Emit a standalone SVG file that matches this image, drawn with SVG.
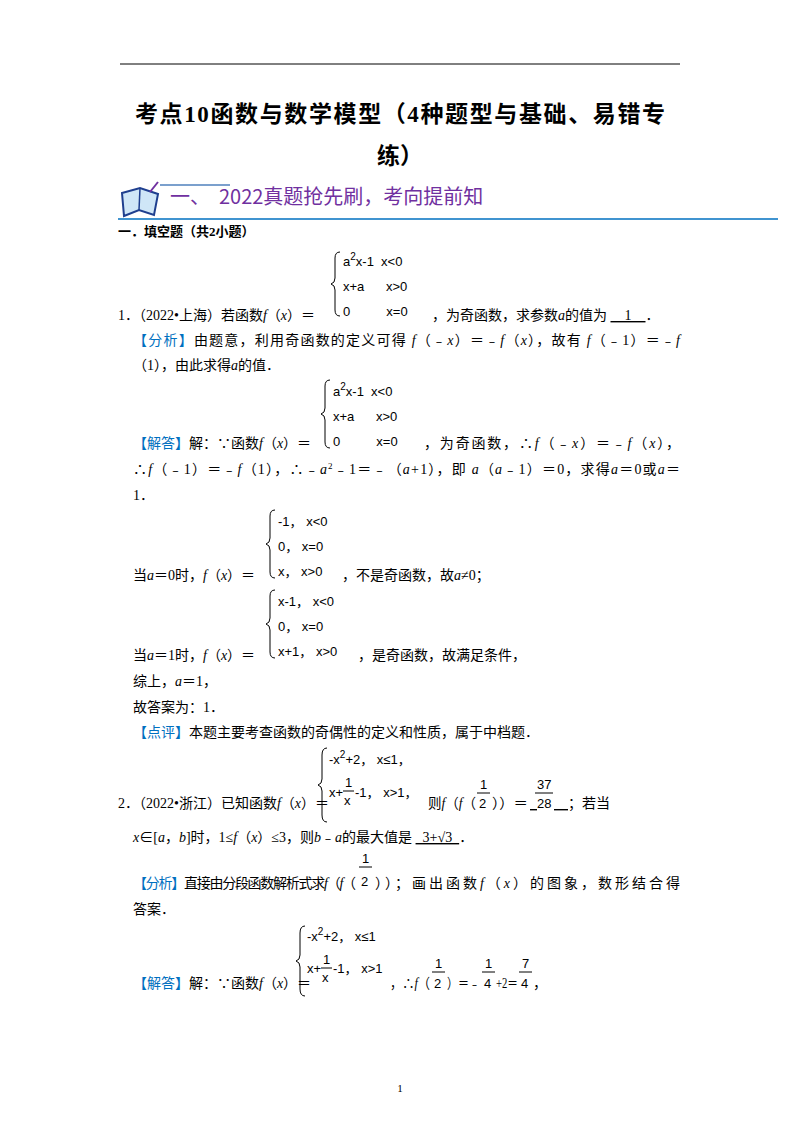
<svg xmlns="http://www.w3.org/2000/svg" width="800" height="1132" viewBox="0 0 800 1132">
<style>
text{font-family:"Liberation Serif","Noto Sans CJK SC",serif;font-size:14px;fill:#000;white-space:pre}
.m{font-family:"Liberation Sans","Noto Sans CJK SC",sans-serif;font-size:13px}
.t{font-size:23px;font-weight:bold}
.b{fill:#0070c0}
.br{fill:none;stroke:#000;stroke-width:1}
.fl{stroke:#000;stroke-width:1}
</style>
<rect width="800" height="1132" fill="#fff"/>
<line x1="120" y1="64" x2="680" y2="64" stroke="#000" stroke-width="1"/>
<text x="135" y="122" class="t" textLength="530" lengthAdjust="spacing">考点10函数与数学模型（4种题型与基础、易错专</text>
<text x="400" y="164" class="t" text-anchor="middle">练）</text>
<g id="icon">
<path d="M122 193 L140 188 L158 194 L154 215 L139 210 L124 216 Z" fill="#cfe6f7" stroke="#1f3f8f" stroke-width="2"/>
<line x1="140" y1="188" x2="139" y2="210" stroke="#1f3f8f" stroke-width="1.5"/>
<line x1="150" y1="192" x2="158" y2="182" stroke="#7030a0" stroke-width="2"/>
</g>
<line x1="160" y1="185" x2="230" y2="185" stroke="#4f81bd" stroke-width="1.5"/>
<text x="170" y="204" style="font-size:20px;fill:#7030a0;font-family:'Noto Sans CJK SC',sans-serif">一、  2022真题抢先刷，考向提前知</text>
<line x1="118" y1="219" x2="778" y2="219" stroke="#0070c0" stroke-width="1.5"/>
<text x="118" y="236" style="font-size:13px;font-weight:bold">一．填空题（共2小题）</text>

<g id="p1">
<path class="br" d="M340 252 q-5 0 -5 6 v20 q0 5 -4 6 q4 1 4 6 v20 q0 6 5 6"/>
<text class="m" x="343" y="266">a<tspan dy="-6" font-size="10">2</tspan><tspan dy="6">x-1  x&lt;0</tspan></text>
<text class="m" x="343" y="291">x+a      x&gt;0</text>
<text class="m" x="343" y="316">0          x=0</text>
<text x="118" y="320">1．（2022•上海）若函数<tspan font-style="italic">f</tspan>（<tspan font-style="italic">x</tspan>）＝</text>
<text x="432" y="320">，为奇函数，求参数<tspan font-style="italic">a</tspan>的值为 <tspan text-decoration="underline">    1    </tspan>．</text>
<text x="133" y="345" textLength="547" lengthAdjust="spacing"><tspan class="b">【分析】</tspan>由题意，利用奇函数的定义可得 <tspan font-style="italic">f</tspan>（﹣<tspan font-style="italic">x</tspan>）＝﹣<tspan font-style="italic">f</tspan>（<tspan font-style="italic">x</tspan>），故有 <tspan font-style="italic">f</tspan>（﹣1）＝﹣<tspan font-style="italic">f</tspan></text>
<text x="133" y="370">（1），由此求得<tspan font-style="italic">a</tspan>的值．</text>
<path class="br" d="M330 380 q-5 0 -5 6 v22 q0 5 -4 6 q4 1 4 6 v22 q0 6 5 6"/>
<text class="m" x="333" y="396">a<tspan dy="-6" font-size="10">2</tspan><tspan dy="6">x-1  x&lt;0</tspan></text>
<text class="m" x="333" y="421">x+a      x&gt;0</text>
<text class="m" x="333" y="446">0          x=0</text>
<text x="133" y="448"><tspan class="b">【解答】</tspan>解：∵函数<tspan font-style="italic">f</tspan>（<tspan font-style="italic">x</tspan>）＝</text>
<text x="424" y="448" textLength="256" lengthAdjust="spacing">，为奇函数，∴<tspan font-style="italic">f</tspan>（﹣<tspan font-style="italic">x</tspan>）＝﹣<tspan font-style="italic">f</tspan>（<tspan font-style="italic">x</tspan>），</text>
<text x="133" y="474" textLength="547" lengthAdjust="spacing">∴<tspan font-style="italic">f</tspan>（﹣1）＝﹣<tspan font-style="italic">f</tspan>（1），∴﹣<tspan font-style="italic">a</tspan><tspan dy="-5" font-size="9">2</tspan><tspan dy="5">﹣1＝﹣（</tspan><tspan font-style="italic">a</tspan>+1），即 <tspan font-style="italic">a</tspan>（<tspan font-style="italic">a</tspan>﹣1）＝0，求得<tspan font-style="italic">a</tspan>＝0或<tspan font-style="italic">a</tspan>＝</text>
<text x="133" y="500">1．</text>
<path class="br" d="M275 510 q-5 0 -5 6 v22 q0 5 -4 6 q4 1 4 6 v22 q0 6 5 6"/>
<text class="m" x="278" y="526">-1， x&lt;0</text>
<text class="m" x="278" y="551">0， x=0</text>
<text class="m" x="278" y="576">x， x&gt;0</text>
<text x="133" y="580">当<tspan font-style="italic">a</tspan>＝0时，<tspan font-style="italic">f</tspan>（<tspan font-style="italic">x</tspan>）＝</text>
<text x="342" y="580">，不是奇函数，故<tspan font-style="italic">a</tspan>≠0；</text>
<path class="br" d="M275 590 q-5 0 -5 6 v22 q0 5 -4 6 q4 1 4 6 v22 q0 6 5 6"/>
<text class="m" x="278" y="606">x-1， x&lt;0</text>
<text class="m" x="278" y="631">0， x=0</text>
<text class="m" x="278" y="656">x+1， x&gt;0</text>
<text x="133" y="660">当<tspan font-style="italic">a</tspan>＝1时，<tspan font-style="italic">f</tspan>（<tspan font-style="italic">x</tspan>）＝</text>
<text x="358" y="660">，是奇函数，故满足条件，</text>
<text x="133" y="686">综上，<tspan font-style="italic">a</tspan>＝1，</text>
<text x="133" y="712">故答案为：1．</text>
<text x="133" y="737"><tspan class="b">【点评】</tspan>本题主要考查函数的奇偶性的定义和性质，属于中档题．</text>
</g>

<g id="p2">
<path class="br" d="M327 748 q-5 0 -5 7 v24 q0 5 -4 6 q4 1 4 6 v24 q0 7 5 7"/>
<text class="m" x="329" y="764">-x<tspan dy="-6" font-size="10">2</tspan><tspan dy="6">+2， x≤1，</tspan></text>
<text class="m" x="329" y="797">x+</text>
<text class="m" x="345" y="787">1</text><line class="fl" x1="343" y1="791" x2="354" y2="791"/><text class="m" x="344" y="805">x</text>
<text class="m" x="355" y="797">-1， x&gt;1，</text>
<text x="118" y="808">2．（2022•浙江）已知函数<tspan font-style="italic">f</tspan>（<tspan font-style="italic">x</tspan>）＝</text>
<text x="428" y="808" textLength="48" lengthAdjust="spacingAndGlyphs">则<tspan font-style="italic">f</tspan>（<tspan font-style="italic">f</tspan>（</text>
<text class="m" x="480" y="789">1</text><line class="fl" x1="477" y1="793" x2="490" y2="793"/><text class="m" x="479" y="808">2</text>
<text x="492" y="808" textLength="36" lengthAdjust="spacingAndGlyphs">））＝</text>
<text x="530" y="808"><tspan text-decoration="underline">  </tspan></text>
<text class="m" x="537" y="789">37</text><line class="fl" x1="535" y1="793" x2="553" y2="793"/><text class="m" x="537" y="808">28</text>
<text x="554" y="808"><tspan text-decoration="underline">    </tspan>；若当</text>
<text x="133" y="842"><tspan font-style="italic">x</tspan>∈[<tspan font-style="italic">a</tspan>，<tspan font-style="italic">b</tspan>]时，1≤<tspan font-style="italic">f</tspan>（<tspan font-style="italic">x</tspan>）≤3，则<tspan font-style="italic">b</tspan>﹣<tspan font-style="italic">a</tspan>的最大值是 <tspan text-decoration="underline">  3+√3  </tspan>．</text>
<text class="m" x="362" y="863">1</text><line class="fl" x1="359" y1="867" x2="372" y2="867"/><text class="m" x="361" y="886">2</text>
<text x="133" y="888" textLength="223" lengthAdjust="spacing"><tspan class="b">【分析】</tspan>直接由分段函数解析式求<tspan font-style="italic">f</tspan>（<tspan font-style="italic">f</tspan>（</text>
<text x="375" y="888" textLength="305" lengthAdjust="spacing">））；画出函数<tspan font-style="italic">f</tspan>（<tspan font-style="italic">x</tspan>）的图象，数形结合得</text>
<text x="133" y="914">答案．</text>
<path class="br" d="M305 926 q-5 0 -5 7 v22 q0 5 -4 6 q4 1 4 6 v22 q0 7 5 7"/>
<text class="m" x="307" y="941">-x<tspan dy="-6" font-size="10">2</tspan><tspan dy="6">+2， x≤1</tspan></text>
<text class="m" x="307" y="973">x+</text>
<text class="m" x="323" y="964">1</text><line class="fl" x1="321" y1="968" x2="332" y2="968"/><text class="m" x="322" y="982">x</text>
<text class="m" x="333" y="973">-1， x&gt;1</text>
<text x="133" y="988"><tspan class="b">【解答】</tspan>解：∵函数<tspan font-style="italic">f</tspan>（<tspan font-style="italic">x</tspan>）＝</text>
<text x="390" y="988" textLength="40" lengthAdjust="spacingAndGlyphs">，∴<tspan font-style="italic">f</tspan>（</text>
<text class="m" x="435" y="968">1</text><line class="fl" x1="432" y1="972" x2="445" y2="972"/><text class="m" x="434" y="988">2</text>
<text x="447" y="988" textLength="33" lengthAdjust="spacingAndGlyphs">）＝﹣</text>
<text class="m" x="485" y="968">1</text><line class="fl" x1="482" y1="972" x2="495" y2="972"/><text class="m" x="484" y="988">4</text>
<text x="496" y="988" textLength="22" lengthAdjust="spacingAndGlyphs">+2＝</text>
<text class="m" x="522" y="968">7</text><line class="fl" x1="519" y1="972" x2="532" y2="972"/><text class="m" x="521" y="988">4</text>
<text x="533" y="988">，</text>
</g>
<text x="400" y="1092" text-anchor="middle" style="font-size:11px">1</text>
</svg>
